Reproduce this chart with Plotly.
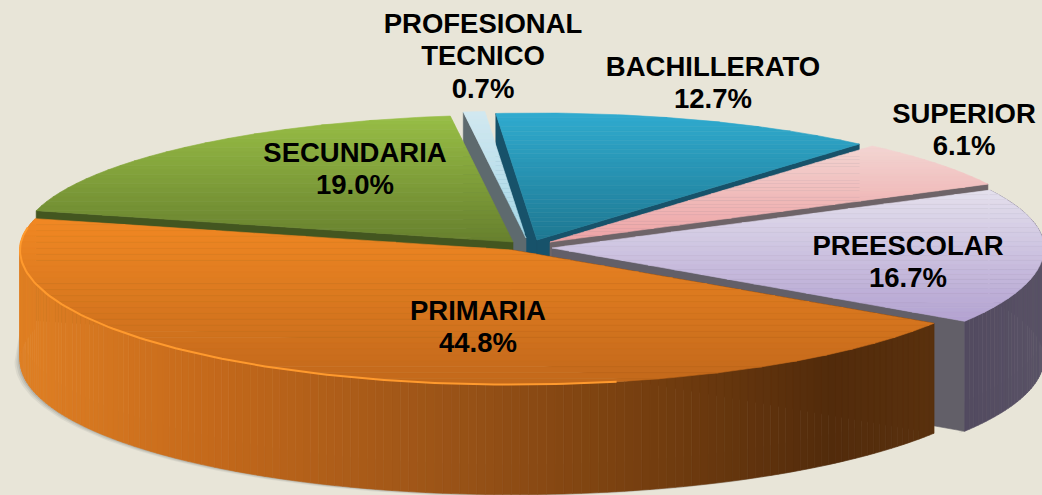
import math
import plotly.graph_objects as go

categories = ["PRIMARIA", "SECUNDARIA", "PROFESIONAL TECNICO", "BACHILLERATO", "SUPERIOR", "PREESCOLAR"]
values = [44.8, 19.0, 0.7, 12.7, 6.1, 16.7]

# Layout of the exploded pie, in page pixels
START_ANGLE = 33.0
DEPTH = 110
RX_LEFT = 492
RX_RIGHT = [503, 492, 492, 492, 492, 492]
RY_FRONT = 134.6
RY_BACK = 127
APEX = [(512, 250), (513, 242), (526, 238), (537, 240), (550, 242), (552, 248)]

TOP_COLORS = [
    ("#F18823", "#C2681B"), ("#98BE46", "#67802E"), ("#D2E8F0", "#A6D8E8"),
    ("#30ABCF", "#1E7892"), ("#F3D5D2", "#EEA3A5"), ("#E4E0ED", "#B3A2D1"),
]
CUT_COLORS = ["#552C0C", "#435620", "#5E6A6E", "#17526A", "#6E6468", "#625F68"]
ARC_STOPS = [
    [(18, "#E08024"), (200, "#C66A1B"), (450, "#9A5317"), (620, "#7A4110"), (830, "#522B0B"), (940, "#5A310E")],
    None, None, None, None,
    [(965, "#524A60"), (1045, "#5A5366")],
]
LABEL_POS = [(478, 313), (355, 155), (483, 26), (713, 69), (964, 116), (908, 248)]
LINE_GAP = 32.5
BG = "#E8E5D8"


def mix(c1, c2, f):
    a = [int(c1[i:i + 2], 16) for i in (1, 3, 5)]
    b = [int(c2[i:i + 2], 16) for i in (1, 3, 5)]
    return "rgb(%d,%d,%d)" % tuple(round(p + (q - p) * f) for p, q in zip(a, b))


def rim(i, deg):
    t = math.radians(deg)
    c, s = math.cos(t), math.sin(t)
    ax, ay = APEX[i]
    return ax + c * (RX_RIGHT[i] if c > 0 else RX_LEFT), ay + s * (RY_FRONT if s > 0 else RY_BACK)


def arc(i, a0, a1, step=1.0):
    n = max(2, int((a1 - a0) / step) + 1)
    return [rim(i, a0 + (a1 - a0) * k / (n - 1)) for k in range(n)]


def clip(poly, y0, y1):
    def half(pts, inside, cross):
        out = []
        for k, p in enumerate(pts):
            q = pts[(k + 1) % len(pts)]
            if inside(p):
                out.append(p)
            if inside(p) != inside(q):
                out.append(cross(p, q))
        return out

    def at(y):
        return lambda p, q: (p[0] + (q[0] - p[0]) * (y - p[1]) / (q[1] - p[1]), y)

    pts = half(poly, lambda p: p[1] >= y0, at(y0))
    return half(pts, lambda p: p[1] <= y1, at(y1)) if pts else []


fig = go.Figure()


def fill(pts, color, line=None, width=0.6, opacity=1.0):
    fig.add_trace(go.Scatter(
        x=[p[0] for p in pts] + [pts[0][0]], y=[p[1] for p in pts] + [pts[0][1]],
        mode="lines", fill="toself", fillcolor=color, opacity=opacity,
        line=dict(color=line or color, width=width), hoverinfo="skip", showlegend=False,
    ))


def top(i, a0, a1):
    poly = [APEX[i]] + arc(i, a0, a1)
    ys = [p[1] for p in poly]
    lo, hi = min(ys), max(ys)
    bands = 28
    for b in range(bands):
        y0 = lo + (hi - lo) * b / bands
        y1 = lo + (hi - lo) * (b + 1) / bands
        part = clip(poly, y0, y1)
        if len(part) > 2:
            fill(part, mix(*TOP_COLORS[i], (b + 0.5) / bands))


def cut(i, deg):
    ax, ay = APEX[i]
    x, y = rim(i, deg)
    fill([(ax, ay), (x, y), (x, y + DEPTH), (ax, ay + DEPTH)], CUT_COLORS[i])


def outer(i, a0, a1):
    stops = ARC_STOPS[i]
    n = max(2, int((a1 - a0) / 1.0) + 1)
    for k in range(n - 1):
        d0 = a0 + (a1 - a0) * k / (n - 1)
        d1 = a0 + (a1 - a0) * (k + 1) / (n - 1)
        p, q = rim(i, d0), rim(i, d1)
        xm = (p[0] + q[0]) / 2
        col = stops[-1][1]
        for (x0, c0), (x1, c1) in zip(stops, stops[1:]):
            if x0 <= xm <= x1:
                col = mix(c0, c1, (xm - x0) / (x1 - x0))
                break
        fill([p, q, (q[0], q[1] + DEPTH), (p[0], p[1] + DEPTH)], col)


# slice angle limits, derived from the values
angles = []
cur = START_ANGLE
for v in values:
    span = v / sum(values) * 360
    angles.append((cur, cur + span))
    cur += span
PRI, SEC, PRO, BAC, SUP, PRE = range(6)

# soft ground shadow
for grow, op in ((9, 0.10), (6, 0.14), (3, 0.20)):
    for i, (a0, a1) in ((PRI, (angles[PRI][0], 180)), (PRE, (angles[PRE][1] - 40, angles[PRE][1]))):
        lower = [(x - grow * 0.6, y + DEPTH + grow * 0.2) for x, y in arc(i, a0, a1)]
        upper = [(x, y + DEPTH - 30) for x, y in arc(i, a0, a1)]
        fill(lower + upper[::-1], "#6A6A6A", line="rgba(0,0,0,0)", width=0, opacity=op)

# back to front
cut(BAC, angles[BAC][0])
cut(BAC, angles[BAC][1])
top(BAC, *angles[BAC])
cut(PRO, angles[PRO][0])
top(PRO, *angles[PRO])
cut(SUP, angles[SUP][1])
top(SUP, *angles[SUP])
cut(PRE, angles[PRE][1])
outer(PRE, angles[PRE][0] + 360 - 360, angles[PRE][1])
top(PRE, *angles[PRE])
cut(SEC, angles[SEC][0])
top(SEC, *angles[SEC])
cut(PRI, angles[PRI][0])
outer(PRI, angles[PRI][0], angles[PRI][1])
top(PRI, *angles[PRI])

# bright rim on the primaria slice
rim_pts = arc(PRI, angles[PRI][0] + 45, angles[PRI][1] - 4)
fig.add_trace(go.Scatter(x=[p[0] for p in rim_pts], y=[p[1] for p in rim_pts], mode="lines",
                         line=dict(color="#FF9A2E", width=2), hoverinfo="skip", showlegend=False))

# labels: each word group on its own line, then the percentage
for name, v, (lx, ly) in zip(categories, values, LABEL_POS):
    lines = (name.split(" ") if name.startswith("PROFESIONAL") else [name]) + [f"{v:.1f}%"]
    fig.add_trace(go.Scatter(
        x=[lx] * len(lines), y=[ly + LINE_GAP * k for k in range(len(lines))],
        mode="text", text=lines, textposition="middle center",
        textfont=dict(family="Liberation Sans", size=27.5, color="#000000", weight="bold"),
        hoverinfo="skip", showlegend=False, cliponaxis=False,
    ))

fig.update_layout(
    width=1042, height=495, margin=dict(l=0, r=0, t=0, b=0),
    paper_bgcolor=BG, plot_bgcolor=BG, showlegend=False,
    xaxis=dict(range=[0, 1042], visible=False, fixedrange=True),
    yaxis=dict(range=[495, 0], visible=False, fixedrange=True),
)
fig.write_html("out.html", config={"displayModeBar": False},
               post_script="document.body.style.margin='0';document.body.style.overflow='hidden';")
